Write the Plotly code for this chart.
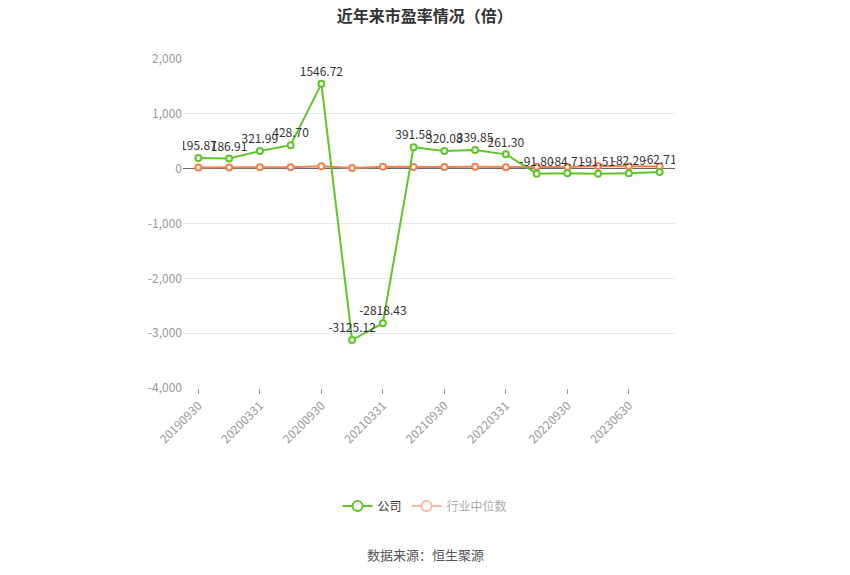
import plotly.graph_objects as go

# periodos del reporte
periods = ["20190930", "20191231", "20200331", "20200630", "20200930", "20201231",
           "20210331", "20210630", "20210930", "20211231", "20220331", "20220630",
           "20220930", "20221231", "20230630", "20230930"]
# PE de la empresa
company_pe = [195.87, 186.91, 321.99, 428.70, 1546.72, -3125.12, -2818.43, 391.58,
              320.08, 339.85, 261.30, -91.80, -84.71, -91.51, -82.29, -62.71]
# mediana de la industria
industry_pe = [20, 22, 24, 26, 45, 12, 35, 30, 30, 34, 28, 30, 30, 50, 42, 38]

tick_labels = periods[::2]
y_ticks = [-4000, -3000, -2000, -1000, 0, 1000, 2000]
y_ticktext = ["-4,000", "-3,000", "-2,000", "-1,000", "0", "1,000", "2,000"]

font_cn = "Noto Sans CJK SC"
green = "#5ec52b"
orange = "#f5804e"
pale = "#f9b9a2"

fig = go.Figure()

# linea de la industria (sin leyenda propia)
fig.add_trace(go.Scatter(x=periods, y=industry_pe, name="行业中位数", mode="lines+markers",
                         line=dict(color=orange, width=2), showlegend=False,
                         legendgroup="ind",
                         marker=dict(symbol="circle", size=6, color="white",
                                     line=dict(color=orange, width=2))))

# linea de la empresa con etiquetas
fig.add_trace(go.Scatter(x=periods, y=company_pe, name="公司", mode="lines+markers+text",
                         text=[f"{v:.2f}" for v in company_pe], textposition="top center",
                         textfont=dict(color="#333333", size=12), showlegend=False,
                         legendgroup="co",
                         line=dict(color=green, width=2),
                         marker=dict(symbol="circle", size=6, color="white",
                                     line=dict(color=green, width=2))))

# entradas de leyenda (iconos mas grandes)
fig.add_trace(go.Scatter(x=[None], y=[None], name="公司",
                         mode="lines+markers", legendgroup="co",
                         line=dict(color=green, width=2),
                         marker=dict(symbol="circle", size=10, color="white",
                                     line=dict(color=green, width=2))))
fig.add_trace(go.Scatter(x=[None], y=[None], name="<span style='color:#aaaaaa'>行业中位数</span>",
                         mode="lines+markers", legendgroup="ind",
                         line=dict(color=pale, width=2),
                         marker=dict(symbol="circle", size=10, color="white",
                                     line=dict(color=pale, width=2))))

fig.update_layout(
    width=842, height=567,
    paper_bgcolor="white", plot_bgcolor="white",
    font=dict(family=font_cn, color="#666666", size=12),
    margin=dict(l=175, r=175, t=51, b=187, autoexpand=False),
    title=dict(text="<b>近年来市盈率情况（倍）</b>", xref="container", x=0.495, xanchor="center",
               yref="container", y=0.986, yanchor="middle",
               font=dict(size=16, color="#333333")),
    showlegend=True,
    legend=dict(orientation="h", x=0.492, xanchor="center", y=-0.359, yanchor="middle",
                font=dict(size=12, color="#333333")),
    xaxis=dict(type="category", range=[-0.5, len(periods) - 0.5],
               tickmode="array", tickvals=tick_labels, ticktext=tick_labels,
               tickangle=-45, tickfont=dict(color="#999999", size=12),
               ticks="outside", ticklen=5, tickcolor="#999999",
               showgrid=False, showline=False, zeroline=False),
    yaxis=dict(range=[-4000, 2000], tickmode="array", tickvals=y_ticks, ticktext=y_ticktext,
               tickfont=dict(color="#999999", size=12),
               gridcolor="#e3e8f2", zeroline=True, zerolinecolor="#666666",
               zerolinewidth=1, showline=False),
)

# fuente de datos
fig.add_annotation(text="数据来源：恒生聚源", x=0.492, y=-0.505, xref="paper", yref="paper",
                   yanchor="middle", showarrow=False, font=dict(size=13, color="#555555"))

fig.write_html("out.html")
